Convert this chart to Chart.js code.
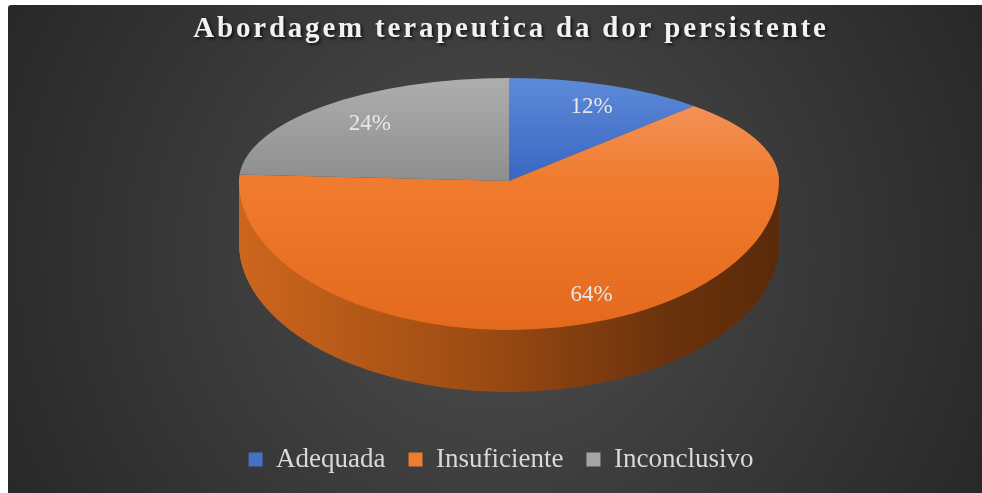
<!DOCTYPE html>
<html lang="pt">
<head>
<meta charset="UTF-8" />
<title>Abordagem terapeutica da dor persistente</title>
<script src="https://cdn.jsdelivr.net/npm/chart.js@4.4.1/dist/chart.umd.min.js"></script>
<style>
  html, body { margin: 0; padding: 0; background: #ffffff; }
  canvas { display: block; }
</style>
</head>
<body>
<canvas id="myChart" width="982" height="493"></canvas>
<script>
const chartTitle = "Abordagem terapeutica da dor persistente";
const categories = ["Adequada", "Insuficiente", "Inconclusivo"];
const percentages = [12, 64, 24];
const sliceColors = ["#4472C4", "#ED7D31", "#A5A5A5"];

// tilted pie: back half flatter than the front half (fake perspective)
const pie = { cx: 509, cy: 181, rx: 270, ryBack: 103, ryFront: 149, depth: 62 };
const topShades = [
  ["#5D8AD8", "#3966C3"],
  ["#F29A66", "#F07B2E", "#E3691D"],
  ["#AEAEAE", "#8E8E8E"]
];
const sideShades = ["#CD661D", "#9C4B13", "#6A320C", "#5A2A09"];

function paintArc(ctx, arc, fill) {
  const fake = Object.create(arc);
  fake.options = Object.assign({}, arc.options, { backgroundColor: fill, borderWidth: 0, offset: 0, spacing: 0 });
  fake.draw(ctx);
}

// draw the half of the pie (back or front) squeezed into the ellipse
function half(chart, arc, back, dy, fn) {
  const ctx = chart.ctx;
  const R = arc.outerRadius;
  ctx.save();
  ctx.beginPath();
  if (back) ctx.rect(0, 0, chart.width, pie.cy + dy);
  else ctx.rect(0, pie.cy + dy, chart.width, chart.height);
  ctx.clip();
  ctx.translate(pie.cx, pie.cy + dy);
  ctx.scale(pie.rx / R, (back ? pie.ryBack : pie.ryFront) / R);
  ctx.translate(-arc.x, -arc.y);
  fn(ctx);
  ctx.restore();
}

function toScreen(angle, fx, fy) {
  const s = Math.sin(angle);
  return {
    x: pie.cx + pie.rx * fx * Math.cos(angle),
    y: pie.cy + (s < 0 ? pie.ryBack : pie.ryFront) * fy * s
  };
}

const pie3d = {
  id: "pie3d",
  beforeDraw(chart) {
    const ctx = chart.ctx;
    ctx.save();
    ctx.fillStyle = "#ffffff";
    ctx.fillRect(0, 0, chart.width, chart.height);
    const g = ctx.createRadialGradient(495, 255, 0, 495, 255, 600);
    g.addColorStop(0, "#4e4e4e");
    g.addColorStop(1, "#242424");
    ctx.fillStyle = g;
    ctx.beginPath();
    ctx.roundRect(8, 5, chart.width - 8, chart.height - 5, [3, 0, 0, 0]);
    ctx.fill();
    ctx.restore();
  },
  beforeDatasetsDraw(chart) {
    const meta = chart.getDatasetMeta(0);
    const arcs = meta.data;
    const a0 = arcs[0];
    const R = a0.outerRadius;
    const ctx = chart.ctx;

    // side wall
    const side = ctx.createLinearGradient(a0.x - R, 0, a0.x + R, 0);
    side.addColorStop(0, sideShades[0]);
    side.addColorStop(0.45, sideShades[1]);
    side.addColorStop(0.8, sideShades[2]);
    side.addColorStop(1, sideShades[3]);
    for (let i = pie.depth; i >= 1; i--) {
      half(chart, a0, false, i, c => arcs.forEach(arc => paintArc(c, arc, side)));
    }

    // top face
    const fills = topShades.map(stops => {
      const g = ctx.createLinearGradient(0, a0.y - R, 0, a0.y + R);
      stops.forEach((col, k) => g.addColorStop(k / (stops.length - 1) * (stops.length === 2 ? 0.5 : 1), col));
      return g;
    });
    [true, false].forEach(back => {
      half(chart, a0, back, 0, c => arcs.forEach((arc, i) => paintArc(c, arc, fills[i])));
    });
    return false;
  },
  afterDraw(chart) {
    const ctx = chart.ctx;
    const arcs = chart.getDatasetMeta(0).data;
    // title
    ctx.save();
    ctx.font = 'bold 29px "Liberation Serif", "Times New Roman", serif';
    ctx.letterSpacing = "2.8px";
    ctx.textAlign = "center";
    ctx.textBaseline = "alphabetic";
    ctx.shadowColor = "rgba(0,0,0,0.65)";
    ctx.shadowOffsetX = 2;
    ctx.shadowOffsetY = 2;
    ctx.shadowBlur = 3;
    ctx.fillStyle = "#F2F2F2";
    ctx.fillText(chartTitle, 511, 37);
    ctx.restore();

    // data labels
    ctx.save();
    ctx.font = '23px "Liberation Serif", "Times New Roman", serif';
    ctx.fillStyle = "#E8E8E8";
    ctx.textAlign = "center";
    ctx.textBaseline = "alphabetic";
    const total = percentages.reduce((s, v) => s + v, 0);
    arcs.forEach((arc, i) => {
      const mid = (arc.startAngle + arc.endAngle) / 2;
      const p = toScreen(mid, 0.78, 0.8);
      ctx.fillText(Math.round(percentages[i] / total * 100) + "%", p.x + 5, p.y + 9);
    });
    ctx.restore();
  }
};

new Chart(document.getElementById("myChart"), {
  type: "pie",
  data: {
    labels: categories,
    datasets: [{
      data: percentages,
      backgroundColor: sliceColors,
      borderWidth: 0,
      clip: false
    }]
  },
  options: {
    responsive: false,
    animation: false,
    layout: { padding: { left: 20, bottom: 10 } },
    plugins: {
      title: { display: false },
      tooltip: { enabled: false },
      legend: {
        position: "bottom",
        labels: {
          color: "#D9D9D9",
          font: { family: '"Liberation Serif", "Times New Roman", serif', size: 27 },
          boxWidth: 14,
          boxHeight: 14,
          padding: 23
        }
      }
    }
  },
  plugins: [pie3d]
});
</script>
</body>
</html>
